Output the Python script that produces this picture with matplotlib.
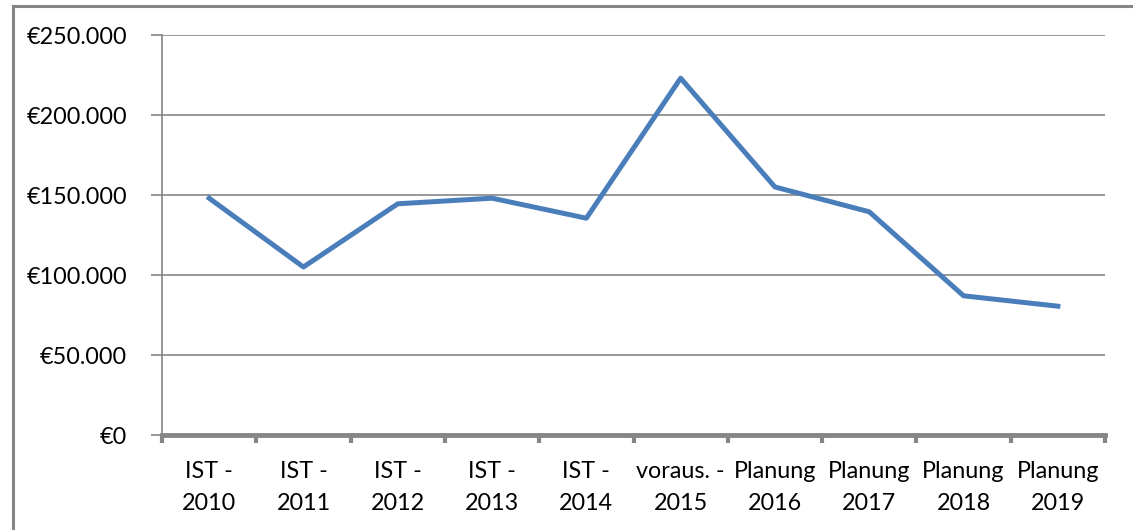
import matplotlib.pyplot as plt
from matplotlib.lines import Line2D
from matplotlib.ticker import FuncFormatter

plt.rcParams['font.family'] = ['Lato', 'DejaVu Sans']

# -------- Data --------
categories = ["IST -\n2010", "IST -\n2011", "IST -\n2012", "IST -\n2013", "IST -\n2014",
              "voraus. -\n2015", "Planung\n2016", "Planung\n2017", "Planung\n2018", "Planung\n2019"]
values = [148000, 105000, 144500, 148000, 135500, 223000, 155000, 139500, 87000, 80500]
y_ticks = [0, 50000, 100000, 150000, 200000, 250000]

W, H = 1133, 530
fig = plt.figure(figsize=(W / 100, H / 100), dpi=100)
ax = fig.add_axes([162 / W, 1 - 435 / H, (1105 - 162) / W, 400 / H])

grey = '#868686'
x = list(range(len(categories)))
ax.plot(x, values, color='#4a7ebb', lw=3.6, solid_joinstyle='round', zorder=3)

ax.set_xlim(-0.5, len(categories) - 0.5)
ax.set_ylim(0, 250000)

# gridlines and y ticks
ax.set_yticks(y_ticks)
ax.yaxis.set_major_formatter(FuncFormatter(lambda v, p: "€" + f"{int(v):,}".replace(",", ".")))
ax.grid(axis='y', color=grey, lw=1.2)
ax.set_axisbelow(True)
ax.tick_params(axis='y', length=8, width=1.2, color=grey, pad=17, labelsize=16.8)

# category ticks between labels
ax.set_xticks(x)
ax.set_xticklabels(categories, linespacing=1.6)
ax.set_xticks([i - 0.5 for i in range(len(categories) + 1)], minor=True)
ax.tick_params(axis='x', which='major', length=0, pad=19, labelsize=16.8)
ax.tick_params(axis='x', which='minor', length=6, width=3, color=grey)

for s in ['top', 'right']:
    ax.spines[s].set_visible(False)
ax.spines['left'].set_color(grey)
ax.spines['left'].set_linewidth(1.2)
ax.spines['bottom'].set_color(grey)
ax.spines['bottom'].set_linewidth(3.5)

# outer chart frame (top and left edges visible)
fig.add_artist(Line2D([13 / W, 13 / W], [0, 1 - 6 / H], color=grey, lw=2.2))
fig.add_artist(Line2D([13 / W, 1], [1 - 6 / H, 1 - 6 / H], color=grey, lw=2.2))

fig.savefig("out.png", dpi=100)
